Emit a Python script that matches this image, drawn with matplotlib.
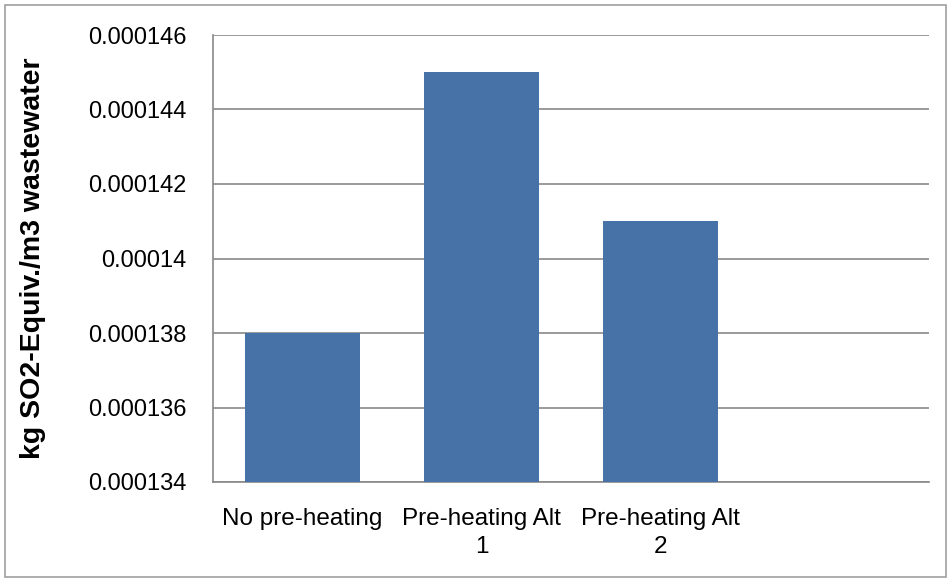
import matplotlib.pyplot as plt
from matplotlib.patches import Rectangle

categories = ["No pre-heating", "Pre-heating Alt\n1", "Pre-heating Alt\n2", ""]
values = [0.000138, 0.000145, 0.000141, None]
yticks = [0.000134, 0.000136, 0.000138, 0.00014, 0.000142, 0.000144, 0.000146]
ytick_labels = ["0.000134", "0.000136", "0.000138", "0.00014", "0.000142", "0.000144", "0.000146"]

plt.rcParams['font.family'] = ['Liberation Sans', 'DejaVu Sans']

fig = plt.figure(figsize=(9.48, 5.78), dpi=100)
ax = fig.add_axes([213 / 948, 1 - 482 / 578, 716 / 948, 447 / 578])

xs = [i for i, v in enumerate(values) if v is not None]
vals = [v for v in values if v is not None]
ax.bar(xs, vals, width=0.64, color="#4672A8", zorder=3)

ax.set_xlim(-0.5, 3.5)
ax.set_ylim(0.000134, 0.000146)
ax.set_yticks(yticks)
ax.set_yticklabels(ytick_labels, fontsize=17)
ax.set_xticks(range(len(categories)))
ax.set_xticklabels(categories, fontsize=17.5, linespacing=1.35)
ax.tick_params(axis='x', length=0, pad=19)
ax.tick_params(axis='y', length=0, pad=19)
ax.yaxis.grid(True, color="#898989", linewidth=1.2, zorder=0)

for s in ["top", "right"]:
    ax.spines[s].set_visible(False)
for s in ["left", "bottom"]:
    ax.spines[s].set_color("#898989")
    ax.spines[s].set_linewidth(1.2)

fig.text(33 / 948, 1 - 258 / 578, "kg SO2-Equiv./m3 wastewater", rotation=90,
         fontsize=20.5, fontweight="bold", ha="center", va="center")

fig.patches.append(Rectangle((5 / 948, 1 / 578), 941 / 948, 572 / 578, transform=fig.transFigure,
                             fill=False, edgecolor="#A0A0A0", linewidth=1.2))

fig.savefig("out.png", dpi=100)
